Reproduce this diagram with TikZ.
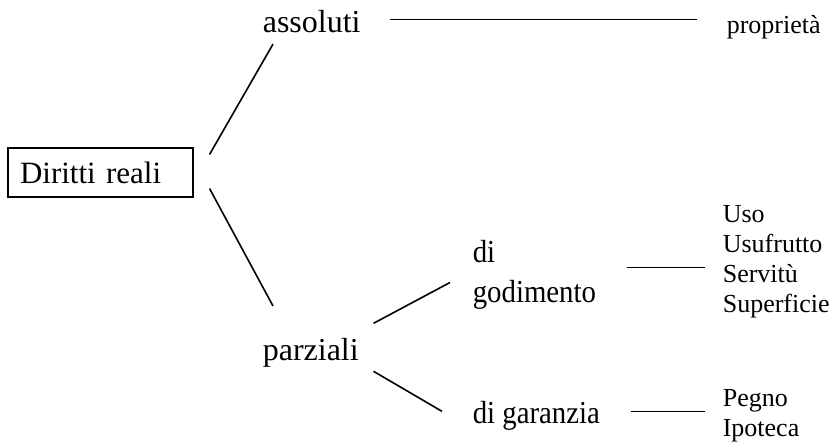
\documentclass[tikz,border=0pt]{standalone}
\usepackage{fontspec}
\setmainfont{Liberation Serif}
\newfontfamily\narrowserif{Liberation Serif}[FakeStretch=0.9]
\usetikzlibrary{calc}
\tikzset{
  every picture/.style={x=1pt, y=-1pt, line width=1.6pt},
  term/.style={inner sep=0pt, align=left, font=\fontsize{32}{40}\selectfont},
  subterm/.style={inner sep=0pt, align=left, font=\narrowserif\fontsize{32}{40}\selectfont},
  leaf/.style={inner sep=0pt, align=left, font=\fontsize{26}{30}\selectfont},
  rootbox/.style={draw, line width=1.1pt, inner xsep=12pt, inner ysep=0pt, text width=161pt, minimum height=49pt, align=left, font=\fontsize{31}{40}\selectfont},
  link/.style={draw=black, line width=1.6pt},
}

\begin{document}
\begin{tikzpicture}
  \useasboundingbox (0,0) rectangle (833,447);
  % root
  \node[rootbox] (root) at (100.5,172.5) {Diritti reali};
  % first level
  \node[term, anchor=base west] (ass) at (262,32) {assoluti};
  \node[term, anchor=base west] (parz) at (262,360) {parziali};
  \node[leaf, anchor=base west] (prop) at (726,33) {proprietà};
  % second level
  \node[subterm, anchor=west] (god) at (472,274.5) {di\\godimento};
  \node[subterm, anchor=base west] (gar) at (472,423) {di garanzia};
  \node[leaf, anchor=west] (usi) at (722,262) {Uso\\Usufrutto\\Servitù\\Superficie};
  \node[leaf, anchor=west] (gars) at (722,416) {Pegno\\Ipoteca};
  % connectors
  \draw[link] ($(root.north east)+(16,7)$) -- ($(ass.south west)+(11,11)$);
  \draw[link] ($(root.south east)+(16,-9)$) -- ($(parz.north west)+(11,-31)$);
  \draw[link] ($(ass.east)+(29,-1.5)$) -- ($(prop.west |- ass.east)+(-29,-1.5)$);
  \draw[link] ($(parz.east)+(14,-29)$) -- ($(god.west)+(-22,8)$);
  \draw[link] ($(parz.east)+(14,19)$) -- ($(gar.west)+(-30,-4)$);
  \draw[link] ($(god.east)+(30,-7)$) -- ($(usi.west |- god.east)+(-17,-7)$);
  \draw[link] ($(gar.east)+(30,-4)$) -- ($(gars.west |- gar.east)+(-17,-4)$);
\end{tikzpicture}
\end{document}
